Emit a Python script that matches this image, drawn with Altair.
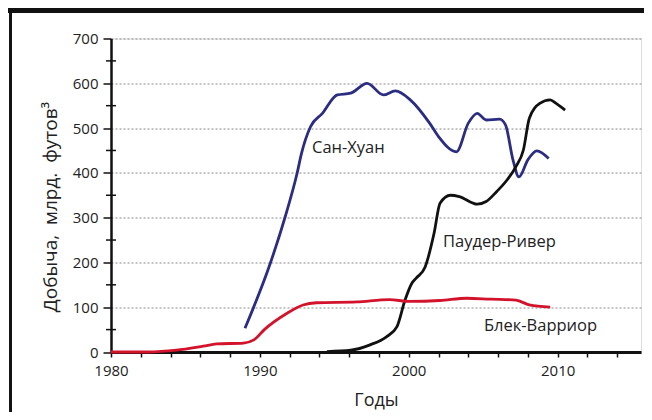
import altair as alt
import pandas as pd

# San Juan (blue)
sj_year = [1989.0, 1990.7, 1991.7, 1992.5, 1992.8, 1993.4, 1994.2, 1995.2, 1996.1, 1997.2,
           1998.3, 1999.1, 2000.1, 2001.4, 2002.0, 2003.2, 2004.0, 2004.6, 2005.2, 2006.1,
           2006.5, 2007.0, 2007.4, 2008.0, 2008.6, 2009.4]
sj_val = [53, 198, 302, 399, 444, 503, 533, 574, 578, 600,
          574, 583, 563, 511, 481, 447, 511, 533, 518, 520,
          507, 429, 391, 429, 449, 432]

# Powder River (black)
pr_year = [1994.5, 1996.1, 1997.4, 1998.5, 1999.2, 1999.75, 2000.2, 2000.5, 2001.1, 2001.7,
           2002.1, 2002.8, 2003.4, 2004.6, 2005.2, 2005.9, 2006.6, 2007.2, 2007.7, 2008.1,
           2008.8, 2009.5, 2009.9, 2010.5]
pr_val = [1, 4, 16, 34, 56, 116, 153, 165, 190, 265,
          332, 350, 347, 330, 336, 358, 384, 414, 451, 522,
          555, 563, 555, 540]

# Black Warrior (red)
bw_year = [1980.0, 1982.5, 1984.4, 1986.2, 1987.1, 1988.9, 1989.6, 1990.3, 1991.8, 1992.9,
           1993.8, 1996.5, 1998.7, 2000.0, 2002.1, 2003.9, 2005.5, 2007.2, 2008.1, 2009.5]
bw_val = [0, 0, 4, 13, 18, 20, 27, 50, 86, 105,
          110, 112, 117, 113, 115, 120, 118, 116, 105, 100]

series_names = ["Сан-Хуан", "Паудер-Ривер", "Блек-Варриор"]
series_colors = ["#2b2d82", "#111111", "#d3122c"]

label_text = ["Сан-Хуан", "Паудер-Ривер", "Блек-Варриор"]
label_year = [1993.5, 2002.3, 2005.05]
label_val = [455, 246, 58]

minor_y = [50, 150, 250, 350, 450, 550, 650]
x_ticks = list(range(1980, 2016, 2))
y_ticks = list(range(0, 701, 100))

rows = []
for name, ys, vs in zip(series_names, [sj_year, pr_year, bw_year], [sj_val, pr_val, bw_val]):
    for i, (a, b) in enumerate(zip(ys, vs)):
        rows.append({"series": name, "year": a, "value": b, "order": i})
df = pd.DataFrame(rows)
labels = pd.DataFrame({"text": label_text, "year": label_year, "value": label_val})
minor = pd.DataFrame({"v": minor_y})

FONT = "Open Sans"
W, H = 530, 313.5
NB = "\u00a0"
y_title = "Добыча," + NB + NB + "млрд." + NB + NB + "футов³"

xscale = alt.Scale(domain=[1980, 2015.6], nice=False, zero=False)
yscale = alt.Scale(domain=[0, 700], nice=False)

x_axis = alt.Axis(values=x_ticks, format="d",
                  labelExpr="datum.value % 10 === 0 ? datum.label : ''",
                  labelOverlap=False,
                  title="Годы", tickSize=5, tickWidth=1.5, tickColor="#111",
                  domainColor="#111", domainWidth=3, labelPadding=6,
                  labelFontSize=15, labelColor="#222", labelFont=FONT,
                  titleFont=FONT, titleFontSize=18, titleFontWeight="normal",
                  titleColor="#222", titleY=53, titleBaseline="alphabetic",
                  grid=False, labelFlush=False)
y_axis = alt.Axis(values=y_ticks, title=y_title,
                  tickSize=8, tickWidth=1.5, tickColor="#111",
                  domainColor="#111", domainWidth=2.5, labelPadding=5,
                  labelFontSize=15, labelColor="#222", labelFont=FONT,
                  titleFont=FONT, titleFontSize=19, titleFontWeight="normal",
                  titleColor="#222", titleX=-61, titleY=168, titleAngle=-90,
                  titleAlign="center", titleBaseline="middle",
                  labelOverlap=False,
                  grid=True, gridDash=[2, 2], gridColor="#888", gridWidth=1)

lines = alt.Chart(df).mark_line(strokeWidth=2.8, interpolate="monotone").encode(
    x=alt.X("year:Q", scale=xscale, axis=x_axis),
    y=alt.Y("value:Q", scale=yscale, axis=y_axis),
    color=alt.Color("series:N", scale=alt.Scale(domain=series_names, range=series_colors), legend=None),
    detail="series:N",
    order="order:Q",
)

texts = alt.Chart(labels).mark_text(align="left", baseline="middle", font=FONT,
                                    fontSize=16.5, color="#222").encode(
    x=alt.X("year:Q", scale=xscale, axis=x_axis),
    y=alt.Y("value:Q", scale=yscale, axis=y_axis),
    text="text:N",
)

minor_ticks = alt.Chart(minor).mark_rule(color="#111", strokeWidth=1.5).encode(
    y=alt.Y("v:Q", scale=yscale, axis=y_axis),
    x=alt.value(-5),
    x2=alt.value(5),
)

band = alt.Chart(labels).mark_rect(color="#111111").encode(
    x=alt.value(-104), x2=alt.value(545), y=alt.value(-32), y2=alt.value(-25.5)
)
left_border = alt.Chart(labels).mark_rect(color="#111111").encode(
    x=alt.value(-101.7), x2=alt.value(-99.2), y=alt.value(-32), y2=alt.value(380)
)

chart = alt.layer(band, left_border, minor_ticks, lines, texts).properties(
    width=W, height=H,
    autosize=alt.AutoSizeParams(type="none"),
    padding={"left": 103, "top": 30.5, "right": 3, "bottom": 60},
).configure_view(stroke="#111", strokeWidth=3).configure(background="white")

chart.save("out.html", embed_options={"renderer": "svg", "actions": False})
